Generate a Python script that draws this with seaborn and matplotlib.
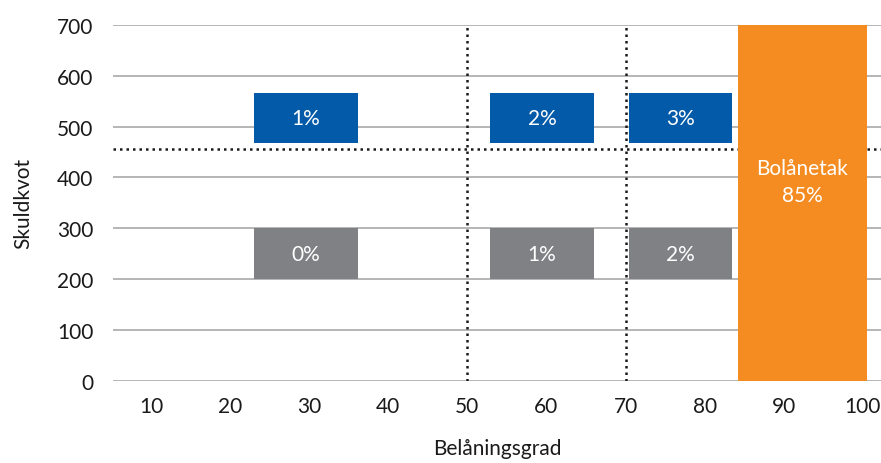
import matplotlib
matplotlib.use("Agg")
import matplotlib.pyplot as plt
import seaborn as sns

# Amortiseringskrav per belåningsgrad och skuldkvot
x_ticks = [10, 20, 30, 40, 50, 60, 70, 80, 90, 100]
y_ticks = [0, 100, 200, 300, 400, 500, 600, 700]

# Boxar: start och slut på belåningsgrad
box_start = [23.0, 52.9, 70.4]
box_end = [36.2, 66.0, 83.5]

# Hög skuldkvot (blå) och låg skuldkvot (grå)
high_low, high_top = 468, 566
high_labels = ["1%", "2%", "3%"]
low_low, low_top = 200, 300
low_labels = ["0%", "1%", "2%"]

# Bolånetak
cap_start, cap_end, cap_height = 84.2, 100.5, 700
cap_label = "Bolånetak\n85%"

# Gränser
debt_ratio_limit = 455
ltv_limits = [50, 70]

BLUE = "#035AA8"
GREY = "#808184"
ORANGE = "#F48C21"
TEXT = "#1a1a1a"
FS = 15

sns.set_theme(style="white")
plt.rcParams["font.family"] = ["Lato", "DejaVu Sans"]

fig = plt.figure(figsize=(8.81, 4.64), dpi=100)
ax = fig.add_axes([113 / 881, 82.3 / 464, 1 - 113 / 881, (381.7 - 26) / 464])

for y in y_ticks:
    ax.axhline(y, color="#a9a9a9", lw=1.2, zorder=1)

ax.axhline(debt_ratio_limit, color=TEXT, lw=1.8, ls=(0, (1, 1.6)), zorder=2)
for xv in ltv_limits:
    ax.axvline(xv, color=TEXT, lw=1.8, ls=(0, (1, 1.6)), zorder=2)

widths = [e - s for s, e in zip(box_start, box_end)]
ax.bar(box_start, [high_top - high_low] * 3, width=widths, bottom=high_low,
       align="edge", color=BLUE, linewidth=0, zorder=3)
ax.bar(box_start, [low_top - low_low] * 3, width=widths, bottom=low_low,
       align="edge", color=GREY, linewidth=0, zorder=3)
ax.bar([cap_start], [cap_height], width=[cap_end - cap_start], align="edge",
       color=ORANGE, linewidth=0, zorder=3)

for s, w, hl, ll in zip(box_start, widths, high_labels, low_labels):
    ax.text(s + w / 2, (high_low + high_top) / 2, hl, color="white",
            ha="center", va="center", fontsize=FS, zorder=4)
    ax.text(s + w / 2, (low_low + low_top) / 2, ll, color="white",
            ha="center", va="center", fontsize=FS, zorder=4)
ax.text((cap_start + cap_end) / 2, 392, cap_label, color="white",
        ha="center", va="center", fontsize=FS, linespacing=1.4, zorder=4)

ax.set_xlim(5.2, 102.3)
ax.set_ylim(0, 700)
ax.set_xticks(x_ticks)
ax.set_yticks(y_ticks)
ax.tick_params(axis="both", length=0, labelsize=FS, colors=TEXT)
ax.tick_params(axis="y", pad=14)
ax.tick_params(axis="x", pad=11)
for sp in ax.spines.values():
    sp.set_visible(False)

ax.set_xlabel("Belåningsgrad", fontsize=FS, color=TEXT, labelpad=16)
ax.set_ylabel("Skuldkvot", fontsize=FS, color=TEXT, labelpad=17)

fig.savefig("out.png", dpi=100)
